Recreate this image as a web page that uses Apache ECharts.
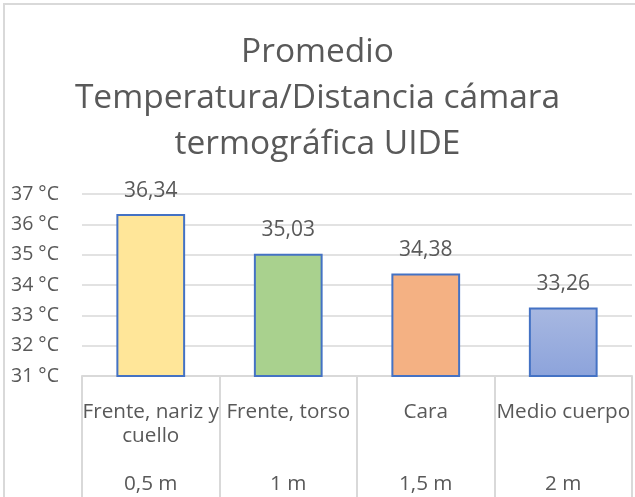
<!DOCTYPE html>
<html>
<head>
<meta charset="utf-8">
<script src="https://cdn.jsdelivr.net/npm/echarts@6/dist/echarts.min.js"></script>
<style>
  html, body { margin: 0; padding: 0; background: #ffffff; }
  #chart { width: 635px; height: 497px; }
</style>
</head>
<body>
<div id="chart"></div>
<script>
// Average temperature measured by the thermographic camera at each distance
const categories = ['Frente, nariz y\ncuello', 'Frente, torso', 'Cara', 'Medio cuerpo'];
const distances = ['0,5 m', '1 m', '1,5 m', '2 m'];
const temperatures = [36.34, 35.03, 34.38, 33.26];
const yTicks = { min: 31, max: 37, interval: 1 };

const titleLines = ['Promedio', 'Temperatura/Distancia cámara', 'termográfica UIDE'];

const textColor = '#595959';
const gridColor = '#D9D9D9';
const barBorder = '#4472C4';
const fills = [
  '#FFE699',
  '#A9D18E',
  '#F4B183',
  new echarts.graphic.LinearGradient(0, 0, 0, 1, [
    { offset: 0, color: '#A8B8E1' },
    { offset: 1, color: '#8CA3DB' }
  ])
];

const fontFamily = '"Open Sans", "Noto Sans", sans-serif';

// Each axis label: category text padded to three lines, then the distance row
function axisLabelText(value, idx) {
  const lines = value.split('\n');
  while (lines.length < 3) lines.push('');
  lines.push(distances[idx]);
  return lines.join('\n');
}

const chart = echarts.init(document.getElementById('chart'), null, { renderer: 'canvas' });

chart.setOption({
  backgroundColor: '#ffffff',
  animation: false,
  title: {
    text: titleLines.join('\n'),
    left: 'center',
    top: 24,
    textStyle: {
      color: textColor,
      fontFamily: fontFamily,
      fontWeight: 'normal',
      fontSize: 33.5,
      lineHeight: 46
    }
  },
  graphic: [{
    type: 'rect',
    shape: { x: 4, y: 4, width: 700, height: 600 },
    style: { fill: 'none', stroke: gridColor, lineWidth: 2 },
    silent: true,
    z: 100
  }],
  grid: {
    left: 82,
    right: 3,
    top: 194,
    bottom: 121,
    containLabel: false
  },
  xAxis: {
    type: 'category',
    data: categories,
    boundaryGap: true,
    axisLine: { show: true, lineStyle: { color: gridColor, width: 2 } },
    axisTick: {
      show: true,
      interval: 0,
      alignWithLabel: false,
      length: 125,
      lineStyle: { color: gridColor, width: 2 }
    },
    axisLabel: {
      interval: 0,
      margin: 24,
      color: textColor,
      fontFamily: fontFamily,
      fontSize: 20.7,
      lineHeight: 24,
      formatter: axisLabelText
    }
  },
  yAxis: {
    type: 'value',
    min: yTicks.min,
    max: yTicks.max,
    interval: yTicks.interval,
    axisLine: { show: false },
    axisTick: { show: false },
    splitLine: { show: true, lineStyle: { color: gridColor, width: 1.5 } },
    axisLabel: {
      margin: 23,
      color: textColor,
      fontFamily: fontFamily,
      fontSize: 19.5,
      formatter: '{value} °C'
    }
  },
  series: [{
    type: 'bar',
    barWidth: '50%',
    data: temperatures.map((v, i) => ({
      value: v,
      itemStyle: { color: fills[i] }
    })),
    itemStyle: {
      borderColor: barBorder,
      borderWidth: 2
    },
    label: {
      show: true,
      position: 'top',
      distance: 13,
      color: textColor,
      fontFamily: fontFamily,
      fontSize: 21,
      formatter: p => p.value.toFixed(2).replace('.', ',')
    }
  }]
});
</script>
</body>
</html>
